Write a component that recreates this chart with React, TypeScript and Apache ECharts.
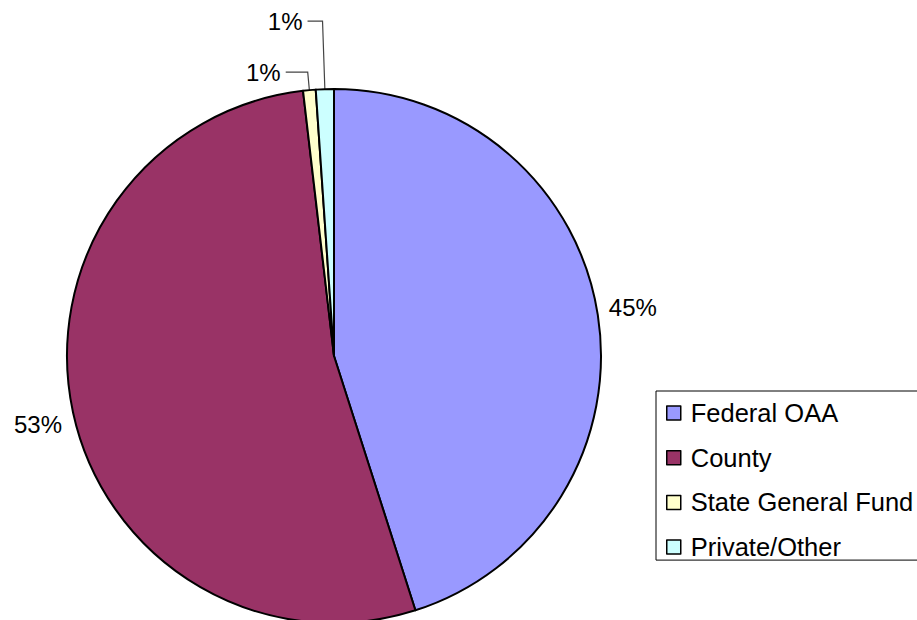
import React, { useEffect, useRef } from "react";
import * as echarts from "echarts";

const categories = ["Federal OAA", "County", "State General Fund", "Private/Other"];
const values = [45.07, 53.08, 0.76, 1.09];
const colors = ["#9999FF", "#993366", "#FFFFCC", "#CCFFFF"];

// label line settings per slice (style only)
const labelLineLen = [0, 0, 18, 68];
const labelLineLen2 = [6, 6, 22, 15];
const labelLineShow = [false, false, true, true];
const labelDy = [-7, 12, 0, 0];

const FONT = "'Liberation Sans', Arial, sans-serif";

export default function App() {
  const ref = useRef<HTMLDivElement>(null);
  useEffect(() => {
    if (!ref.current) return;
    const chart = echarts.init(ref.current, undefined, { renderer: "svg" });
    const data = categories.map((name, i) => ({
      name,
      value: values[i],
      itemStyle: { color: colors[i] },
      labelLine: {
        show: labelLineShow[i],
        length: labelLineLen[i],
        length2: labelLineLen2[i],
      },
    }));
    chart.setOption({
      animation: false,
      backgroundColor: "#ffffff",
      legend: {
        orient: "vertical",
        left: 656,
        top: 391,
        data: categories,
        icon: "rect",
        itemWidth: 14,
        itemHeight: 14,
        itemGap: 18.7,
        padding: [9, 60, 0, 10],
        borderColor: "#000",
        borderWidth: 1,
        itemStyle: { borderColor: "#000", borderWidth: 1.5 },
        textStyle: {
          fontFamily: FONT,
          fontSize: 25.5,
          lineHeight: 24,
          color: "#000",
          padding: [0, 0, 0, 5],
        },
      },
      series: [
        {
          type: "pie",
          center: [334, 356],
          radius: 267,
          startAngle: 90,
          clockwise: true,
          avoidLabelOverlap: false,
          itemStyle: { borderColor: "#000", borderWidth: 2 },
          label: {
            show: true,
            position: "outside",
            fontFamily: FONT,
            fontSize: 24,
            color: "#000",
            formatter: (p: any) => Math.round(p.percent) + "%",
          },
          labelLine: {
            lineStyle: { color: "#444", width: 1.2 },
          },
          labelLayout: (p: any) => ({ dy: labelDy[p.dataIndex] }),
          emphasis: { disabled: true },
          data,
        },
      ],
    });
    return () => chart.dispose();
  }, []);
  return (
    <div
      ref={ref}
      style={{ position: "absolute", left: 0, top: 0, width: 917, height: 620 }}
    />
  );
}
